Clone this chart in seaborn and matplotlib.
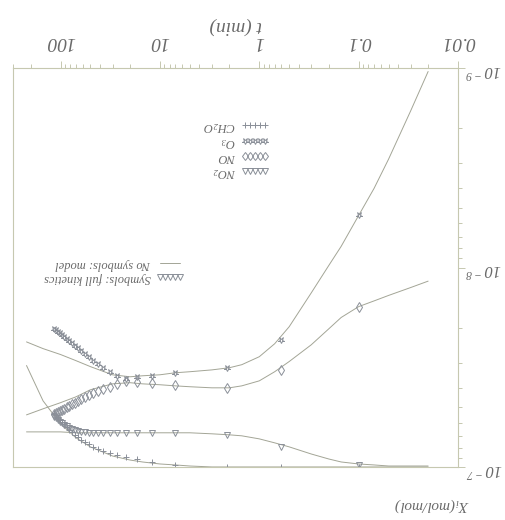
import matplotlib
matplotlib.use('Agg')
import matplotlib.pyplot as plt
import seaborn as sns
import pandas as pd
from matplotlib.markers import MarkerStyle
from matplotlib.transforms import Affine2D
from matplotlib.lines import Line2D
from matplotlib.ticker import FixedLocator, LogLocator, NullFormatter

# the scanned figure is upside down, so everything is drawn turned by 180 degrees

# model curves (no symbols)
t_model = [0.02, 0.03, 0.05, 0.07, 0.1, 0.15, 0.2, 0.3, 0.5, 0.7, 1, 1.5, 2, 3,
           5, 7, 10, 15, 20, 30, 50, 70, 100, 150, 220]
o3_model = [1.04e-9, 1.64e-9, 2.86e-9, 4.01e-9, 5.48e-9, 7.83e-9, 9.77e-9, 1.34e-8,
            1.98e-8, 2.41e-8, 2.80e-8, 3.07e-8, 3.18e-8, 3.26e-8, 3.33e-8, 3.37e-8,
            3.45e-8, 3.49e-8, 3.53e-8, 3.45e-8, 3.14e-8, 2.93e-8, 2.73e-8, 2.55e-8, 2.36e-8]
no_model = [1.17e-8, 1.26e-8, 1.38e-8, 1.47e-8, 1.57e-8, 1.78e-8, 2.03e-8, 2.44e-8,
            2.96e-8, 3.33e-8, 3.70e-8, 3.92e-8, 4.01e-8, 4.01e-8, 3.96e-8, 3.92e-8,
            3.87e-8, 3.83e-8, 3.78e-8, 3.83e-8, 4.10e-8, 4.45e-8, 4.76e-8, 5.11e-8, 5.48e-8]
no2_model = [9.89e-8, 9.89e-8, 9.89e-8, 9.77e-8, 9.66e-8, 9.44e-8, 9.12e-8, 8.61e-8,
             7.93e-8, 7.57e-8, 7.23e-8, 6.98e-8, 6.90e-8, 6.82e-8, 6.74e-8, 6.74e-8,
             6.74e-8, 6.74e-8, 6.74e-8, 6.74e-8, 6.74e-8, 6.74e-8, 6.67e-8, 6.67e-8, 6.67e-8]
ch2o_model = [1.0e-7, 1.0e-7, 1.0e-7, 1.0e-7, 1.0e-7, 1.0e-7, 1.0e-7, 1.0e-7,
              1.0e-7, 1.0e-7, 1.0e-7, 1.0e-7, 1.0e-7, 1.0e-7, 9.89e-8, 9.77e-8,
              9.66e-8, 9.44e-8, 9.23e-8, 8.81e-8, 7.93e-8, 7.14e-8, 6.08e-8, 4.66e-8, 3.10e-8]

# full kinetics (symbols)
t_kin = [0.1, 0.6, 2.1, 7.1, 12.1, 17.1, 22.1, 27.1, 32.1, 37.1, 42.1, 47.1, 52.1,
         57.1, 62.1, 67.1, 72.1, 77.1, 82.1, 87.1, 92.1, 97.1, 102.1, 107.1, 112.1, 117.1]
o3_kin = [5.48e-9, 2.30e-8, 3.18e-8, 3.37e-8, 3.49e-8, 3.53e-8, 3.61e-8, 3.49e-8, 3.33e-8,
          3.18e-8, 3.03e-8, 2.93e-8, 2.80e-8, 2.70e-8, 2.61e-8, 2.52e-8, 2.47e-8, 2.38e-8,
          2.33e-8, 2.27e-8, 2.22e-8, 2.17e-8, 2.12e-8, 2.10e-8, 2.05e-8, 2.03e-8]
no_kin = [1.57e-8, 3.26e-8, 4.01e-8, 3.87e-8, 3.78e-8, 3.74e-8, 3.70e-8, 3.83e-8, 3.96e-8,
          4.06e-8, 4.15e-8, 4.25e-8, 4.35e-8, 4.45e-8, 4.55e-8, 4.66e-8, 4.76e-8, 4.82e-8,
          4.93e-8, 4.99e-8, 5.11e-8, 5.17e-8, 5.23e-8, 5.29e-8, 5.36e-8, 5.42e-8]
no2_kin = [9.77e-8, 7.93e-8, 6.90e-8, 6.74e-8, 6.74e-8, 6.74e-8, 6.74e-8, 6.74e-8, 6.74e-8,
           6.74e-8, 6.74e-8, 6.74e-8, 6.74e-8, 6.67e-8, 6.67e-8, 6.59e-8, 6.52e-8, 6.44e-8,
           6.37e-8, 6.22e-8, 6.15e-8, 6.01e-8, 5.94e-8, 5.80e-8, 5.67e-8, 5.61e-8]
ch2o_kin = [1.0e-7, 1.0e-7, 1.0e-7, 9.77e-8, 9.44e-8, 9.12e-8, 8.9e-8, 8.7e-8, 8.5e-8,
            8.3e-8, 8.1e-8, 7.9e-8, 7.7e-8, 7.5e-8, 7.3e-8, 7.1e-8, 6.9e-8, 6.7e-8,
            6.5e-8, 6.3e-8, 6.1e-8, 5.95e-8, 5.8e-8, 5.65e-8, 5.5e-8, 5.38e-8]

species = ['NO2', 'NO', 'O3', 'CH2O']
species_labels = {'NO2': 'NO$_2$', 'NO': 'NO', 'O3': 'O$_3$', 'CH2O': 'CH$_2$O'}
x_ticks = [0.01, 0.1, 1, 10, 100]
x_ticklabels = ['0.01', '0.1', '1', '10', '100']
y_ticks = [1e-9, 1e-8, 1e-7]
y_ticklabels = [r'$10^{\,-9}$', r'$10^{\,-8}$', r'$10^{\,-7}$']

model = pd.DataFrame({
    't': t_model * 4,
    'x': no2_model + no_model + o3_model + ch2o_model,
    'species': sum([[s] * len(t_model) for s in species], []),
})
kin = {'NO2': no2_kin, 'NO': no_kin, 'O3': o3_kin, 'CH2O': ch2o_kin}

sns.set_style('ticks')
plt.rcParams['font.family'] = ['Liberation Serif', 'DejaVu Serif']
plt.rcParams['font.style'] = 'italic'
plt.rcParams['mathtext.fontset'] = 'custom'
plt.rcParams['mathtext.rm'] = 'Liberation Serif:italic'
plt.rcParams['mathtext.it'] = 'Liberation Serif:italic'

axis_col = '#c6c8b0'
line_col = '#a3a596'
mark_col = '#8a8f98'
text_col = '#6a6a6a'

star = MarkerStyle('*', fillstyle='none', transform=Affine2D().rotate_deg(180))
markers = {'NO2': 'v', 'NO': 'd', 'O3': star, 'CH2O': '+'}

fig = plt.figure(figsize=(5.05, 5.2), dpi=100)
ax = fig.add_axes([0.026, 0.102, 0.881, 0.767])
ax.set_xscale('log')
ax.set_yscale('log')

sns.lineplot(data=model, x='t', y='x', hue='species',
             palette={s: line_col for s in species}, estimator=None,
             lw=0.7, legend=False, ax=ax)
for s in species:
    sns.lineplot(x=t_kin, y=kin[s], estimator=None, ax=ax, linestyle='none',
                 marker=markers[s], markersize=5, markerfacecolor='none',
                 markeredgecolor=mark_col, markeredgewidth=0.7, legend=False)

ax.set_xlim(300, 0.01)
ax.set_ylim(1e-7, 1e-9)
ax.xaxis.tick_top()
ax.yaxis.tick_right()
ax.xaxis.set_major_locator(FixedLocator(x_ticks))
ax.set_xticklabels(x_ticklabels)
ax.xaxis.set_minor_locator(LogLocator(base=10, subs=range(2, 10), numticks=20))
ax.xaxis.set_minor_formatter(NullFormatter())
ax.yaxis.set_major_locator(FixedLocator(y_ticks))
ax.set_yticklabels(y_ticklabels)
ax.yaxis.set_minor_locator(LogLocator(base=10, subs=range(2, 10), numticks=20))
ax.yaxis.set_minor_formatter(NullFormatter())

ax.tick_params(which='both', direction='out', color=axis_col, width=0.7,
               labelcolor=text_col)
ax.tick_params(which='major', length=5)
ax.tick_params(which='minor', length=3)
ax.tick_params(axis='x', labelrotation=180, labelsize=14, pad=8)
ax.tick_params(axis='y', labelrotation=180, labelsize=12, pad=0)
for sp in ax.spines.values():
    sp.set_color(axis_col)
    sp.set_linewidth(0.8)

ax.set_xlabel('t (min)', rotation=180, fontsize=14, color=text_col, labelpad=2)
ax.xaxis.set_label_position('top')
ax.set_ylabel('')
fig.text(432 / 505, 1 - 505 / 520, '$X_i$(mol/mol)', rotation=180, ha='center',
         va='center', fontsize=11, color=text_col)

# species legend
h1 = [Line2D([], [], ls='none', marker=markers[s], markersize=4.5, mfc='none',
             mec=mark_col, mew=0.7) for s in species[::-1]]
leg1 = ax.legend(h1, [species_labels[s] for s in species[::-1]], loc='upper left',
                 bbox_to_anchor=(203 / 505, 1 - 119 / 520), bbox_transform=fig.transFigure,
                 frameon=False, numpoints=5, markerfirst=False, handlelength=2.2,
                 handletextpad=0.4, labelspacing=0.18, borderpad=0, borderaxespad=0,
                 fontsize=9, labelcolor=text_col)
for t in leg1.get_texts():
    t.set_rotation(180)
ax.add_artist(leg1)

# symbols / model legend
h2 = [Line2D([], [], color=line_col, lw=0.7),
      Line2D([], [], ls='none', marker='v', markersize=4.5, mfc='none', mec=mark_col, mew=0.7)]
leg2 = ax.legend(h2, ['No symbols: model', 'Symbols: full kinetics'], loc='upper left',
                 bbox_to_anchor=(44 / 505, 1 - 258 / 520), bbox_transform=fig.transFigure,
                 frameon=False, numpoints=5, markerfirst=False, handlelength=2.2,
                 handletextpad=0.4, labelspacing=0.2, borderpad=0, borderaxespad=0,
                 fontsize=9, labelcolor=text_col)
for t in leg2.get_texts():
    t.set_rotation(180)

fig.savefig('out.png', dpi=100, facecolor='white')
